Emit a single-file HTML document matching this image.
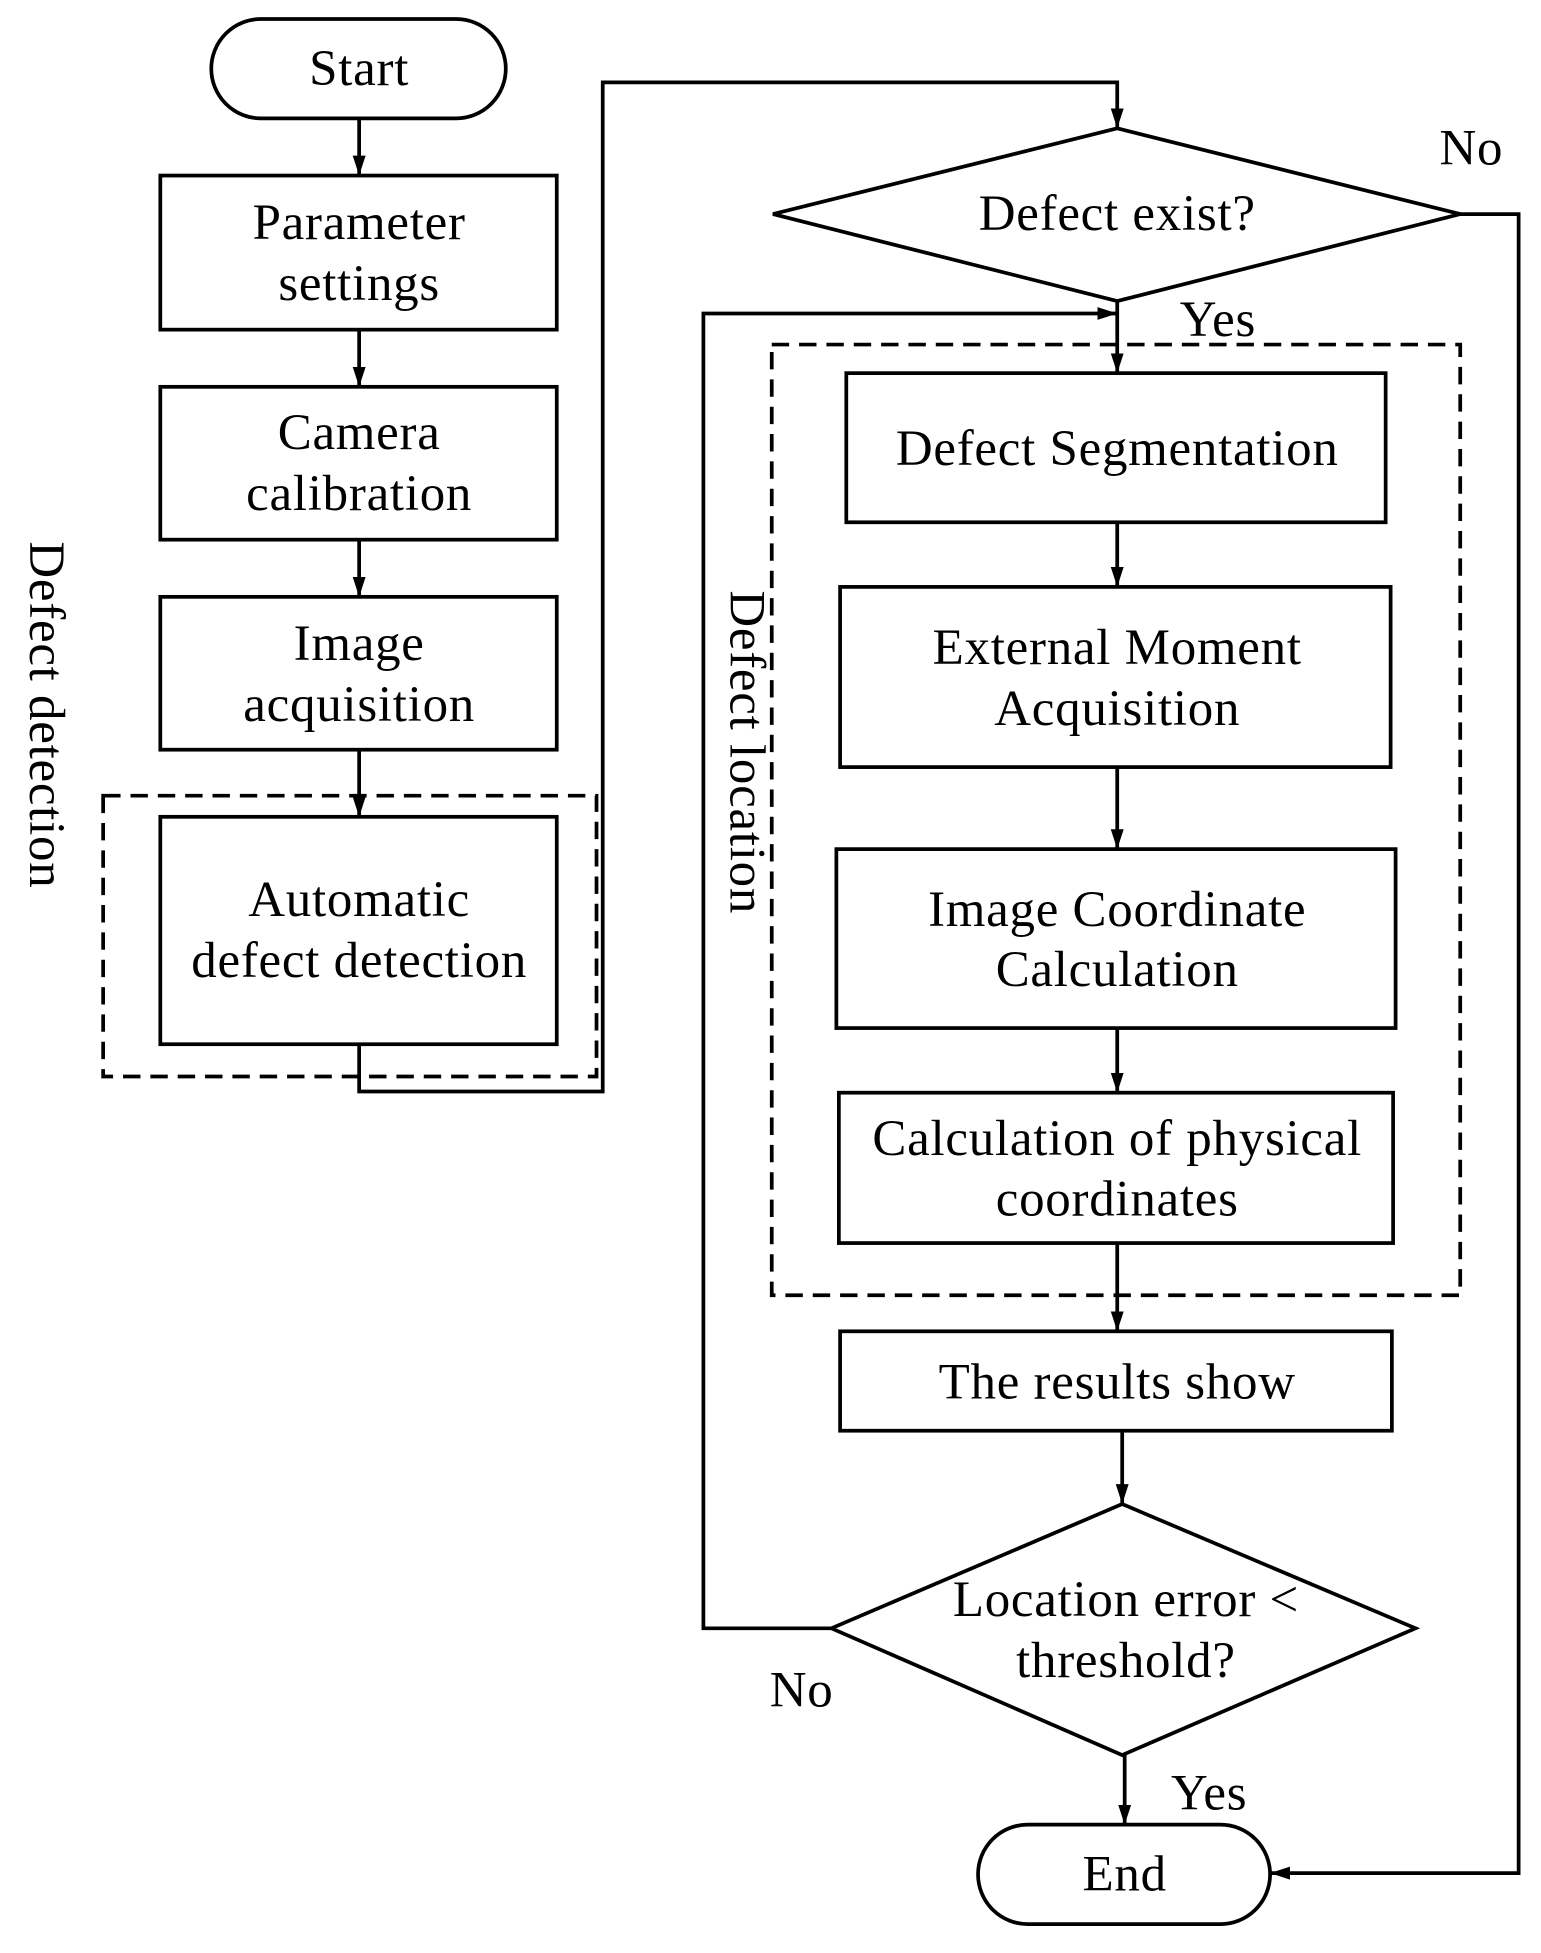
<!DOCTYPE html>
<html><head><meta charset="utf-8"><style>
html,body{margin:0;padding:0;background:#fff}
svg{display:block}
text{font-family:"Liberation Serif",serif;font-size:41px;letter-spacing:0.6px;fill:#000;text-anchor:middle}
</style></head><body>
<svg width="1541" height="1953" viewBox="0 0 1240 1571" xmlns="http://www.w3.org/2000/svg">
<defs>
<marker id="b" markerWidth="16" markerHeight="22" refX="20" refY="10" orient="auto" markerUnits="userSpaceOnUse" viewBox="0 0 20 20"><path d="M0,3.5 L20,10 L0,16.5z" fill="#000"/></marker></defs>
<g fill="none" stroke="#000" stroke-width="3">
<rect x="170" y="15" width="237" height="80" rx="40"/>
<rect x="129" y="141" width="319" height="124"/>
<rect x="129" y="311" width="319" height="123"/>
<rect x="129" y="480" width="319" height="123"/>
<rect x="129" y="657" width="319" height="183"/>
<rect x="83" y="640" width="397" height="226" stroke-dasharray="14,8"/>
<rect x="621" y="277" width="554" height="765" stroke-dasharray="14,8"/>
<polygon points="622,172 899,103 1175,172 899,242"/>
<rect x="681" y="300" width="434" height="120"/>
<rect x="676" y="472" width="443" height="145"/>
<rect x="673" y="683" width="450" height="144"/>
<rect x="675" y="879" width="446" height="121"/>
<rect x="676" y="1071" width="444" height="80"/>
<polygon points="669,1310 903,1210 1139,1310 903,1412"/>
<rect x="787" y="1468" width="235" height="80" rx="40"/>
<g marker-end="url(#b)">
<path d="M289,95V141"/><path d="M289,265V311"/><path d="M289,434V480"/><path d="M289,603V657"/>
<path d="M289,840V878H485V66H899V103"/>
<path d="M899,242V300"/>
<path d="M1175,172H1222V1507H1022"/>
<path d="M669,1310H566V252H899"/>
<path d="M899,420V472"/><path d="M899,617V683"/><path d="M899,827V879"/>
<path d="M899,1000V1071"/><path d="M903,1151V1210"/><path d="M905,1412V1468"/>
</g></g>
<text x="289" y="68">Start</text>
<text x="289" y="192">Parameter</text><text x="289" y="241">settings</text>
<text x="289" y="361">Camera</text><text x="289" y="410">calibration</text>
<text x="289" y="531">Image</text><text x="289" y="580">acquisition</text>
<text x="289" y="737">Automatic</text><text x="289" y="786">defect detection</text>
<text x="899" y="185">Defect exist?</text>
<text x="1184" y="132">No</text>
<text x="980" y="270">Yes</text>
<text x="899" y="374">Defect Segmentation</text>
<text x="899" y="534">External Moment</text><text x="899" y="583">Acquisition</text>
<text x="899" y="745">Image Coordinate</text><text x="899" y="793">Calculation</text>
<text x="899" y="929">Calculation of physical</text><text x="899" y="978">coordinates</text>
<text x="899" y="1125">The results show</text>
<text x="906" y="1300">Location error &lt;</text><text x="906" y="1349">threshold?</text>
<text x="645" y="1373">No</text>
<text x="973" y="1456">Yes</text>
<text x="905" y="1521">End</text>
<text transform="translate(24,575) rotate(90)">Defect detection</text>
<text transform="translate(588,605) rotate(90)">Defect location</text>
</svg>
</body></html>
